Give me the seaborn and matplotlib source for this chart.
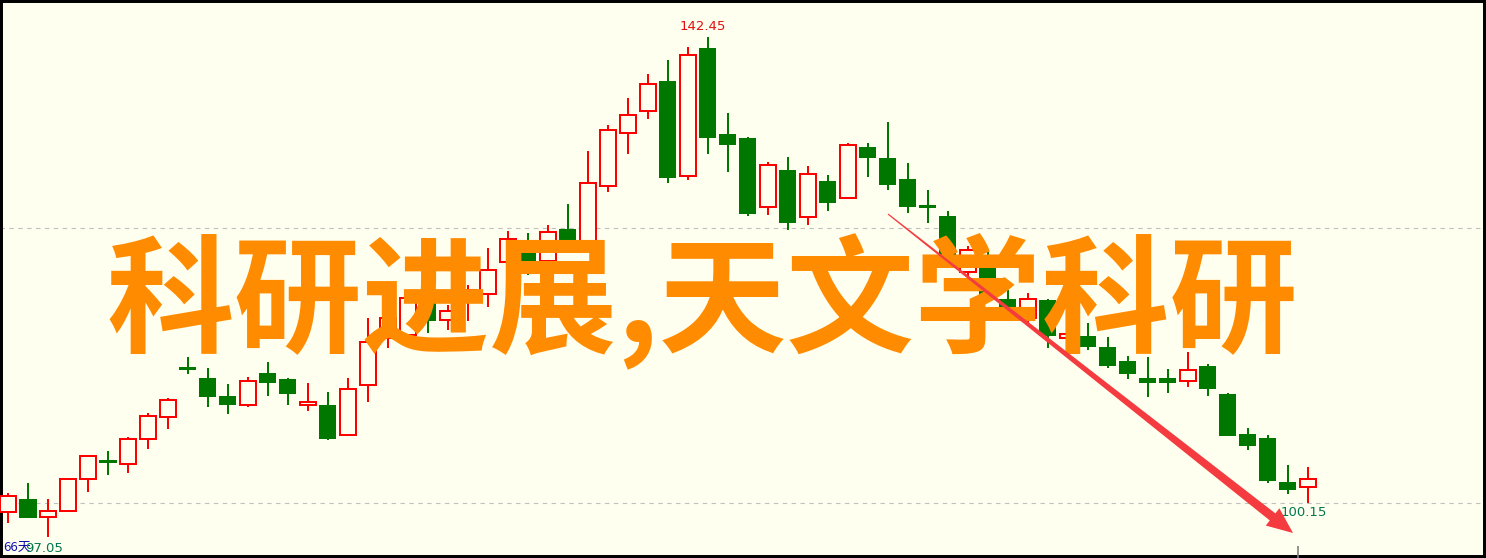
import numpy as np
import pandas as pd
import seaborn as sns
import matplotlib.pyplot as plt
from matplotlib.patches import Polygon

# 日K线数据
opens = [99.31, 100.58, 98.85, 99.40, 102.30, 104.12, 103.67, 105.94, 107.93, 112.39,
         111.57, 109.93, 109.02, 112.02, 111.48, 109.02, 109.12, 106.30, 110.84, 115.11,
         115.38, 118.38, 116.75, 118.38, 119.11, 122.01, 124.10, 122.10, 125.10, 123.56,
         128.92, 133.73, 135.73, 138.54, 129.82, 141.54, 133.73, 133.37, 127.01, 130.46,
         126.10, 129.46, 127.83, 132.55, 131.55, 129.64, 127.28, 126.28, 121.11, 122.65,
         118.74, 116.93, 118.65, 115.11, 115.38, 114.38, 113.11, 111.57, 111.57, 111.20,
         112.66, 110.11, 106.48, 106.12, 102.12, 101.58]
closes = [100.76, 98.85, 99.40, 102.30, 104.39, 103.85, 105.94, 108.03, 109.48, 112.29,
          109.84, 109.12, 111.20, 111.11, 110.11, 109.30, 106.03, 110.48, 114.75, 116.93,
          118.74, 116.75, 117.56, 119.47, 121.29, 124.10, 122.10, 124.74, 124.01, 129.19,
          134.00, 135.37, 138.18, 129.73, 140.82, 133.37, 132.73, 126.46, 130.82, 125.65,
          130.01, 127.46, 132.64, 131.55, 129.10, 127.10, 127.01, 122.01, 123.10, 119.11,
          117.93, 118.65, 115.38, 115.47, 114.38, 112.66, 111.93, 111.11, 111.11, 112.20,
          110.57, 106.30, 105.39, 102.21, 101.39, 102.30]
highs = [101.03, 101.94, 100.49, 102.39, 104.48, 104.85, 106.12, 108.30, 109.66, 113.38,
         112.39, 110.93, 111.57, 112.93, 111.48, 111.02, 110.21, 111.48, 116.93, 117.47,
         118.83, 119.29, 118.11, 119.92, 123.29, 124.83, 124.65, 125.37, 127.28, 132.10,
         134.46, 136.91, 139.09, 140.36, 141.54, 142.45, 135.55, 133.37, 131.10, 131.55,
         130.73, 129.92, 132.82, 132.82, 134.73, 131.01, 128.55, 126.65, 123.47, 123.10,
         119.47, 119.20, 118.65, 115.65, 116.47, 115.20, 113.48, 113.38, 112.29, 113.84,
         112.75, 110.11, 106.94, 106.30, 103.58, 103.39]
lows = [98.31, 98.85, 97.05, 99.40, 101.12, 102.67, 102.85, 105.03, 106.84, 111.84,
        108.84, 108.21, 108.84, 109.84, 109.02, 108.48, 105.85, 106.30, 109.30, 114.20,
        115.38, 115.56, 115.84, 116.65, 117.93, 121.74, 120.83, 122.01, 123.83, 123.10,
        128.37, 131.82, 135.00, 129.19, 129.46, 131.82, 130.19, 126.19, 126.28, 124.92,
        125.37, 126.65, 127.74, 129.73, 128.55, 126.46, 125.56, 121.65, 120.65, 118.83,
        117.74, 116.47, 114.20, 113.75, 114.02, 112.39, 111.39, 109.75, 110.11, 110.66,
        109.84, 106.21, 104.94, 101.94, 100.94, 100.15]

grid_levels = [125.10, 100.13]
title_text = "科研进展,天文学科研"
high_label = "142.45"
low_label = "100.15"
left_label = "97.05"
days_label = "66天"

bg = "#fffff0"
up_color = "#ff0000"
down_color = "#007800"

sns.set_theme(style="white")
plt.rcParams['font.family'] = ['Noto Sans CJK SC', 'DejaVu Sans']

df = pd.DataFrame({"open": opens, "close": closes, "high": highs, "low": lows})
df["idx"] = np.arange(len(df))
df["up"] = df["close"] >= df["open"]
df["bottom"] = df[["open", "close"]].min(axis=1)
df["height"] = (df["close"] - df["open"]).abs()

fig = plt.figure(figsize=(14.86, 5.58), dpi=100)
fig.patch.set_facecolor(bg)
ax = fig.add_axes([0, 0, 1, 1])
ax.set_facecolor(bg)
ax.set_xlim(-0.4, 73.9)
ax.set_ylim(95.13, 145.81)

for lvl in grid_levels:
    ax.axhline(lvl, color="#c0c0c0", lw=0.8, ls=(0, (4, 4)), zorder=1)

# 影线
wick_colors = np.where(df["up"], up_color, down_color)
ax.vlines(df["idx"], df["low"], df["high"], colors=wick_colors, lw=1.44, zorder=2)

# 阴线实体
dn = df[~df["up"]]
ax.bar(dn["idx"], np.maximum(dn["height"], 0.25), bottom=dn["bottom"] - 0.05,
       width=0.85, color=down_color, lw=0, zorder=3)

# 阳线实体 (空心)
up = df[df["up"]]
ax.bar(up["idx"], np.maximum(up["height"], 0.2), bottom=up["bottom"],
       width=0.77, facecolor=bg, edgecolor=up_color, lw=1.44, zorder=3)

# 底部小刻度
ax.vlines([64.5], 95.13, 96.22, colors="#808080", lw=1.2, zorder=3)

# 大标题
fig.text(0.4725, 0.461, title_text, ha="center", va="center", fontsize=92,
         fontweight="bold", color="#ff8c00", zorder=5)

# 箭头 (渐粗)
arrow_start = (44.0, 126.37)
arrow_end = (64.25, 97.40)
p0 = ax.transData.transform(arrow_start)
p1 = ax.transData.transform(arrow_end)
d = p1 - p0
u = d / np.hypot(*d)
n = np.array([-u[1], u[0]])
head_len, head_w = 26, 11
base = p1 - u * head_len
pts = [p0 + n * 0.6, base + n * 4.5, base + n * head_w, p1,
       base - n * head_w, base - n * 4.5, p0 - n * 0.6]
fig.patches.append(Polygon(pts, closed=True, transform=None, facecolor="#f43c40",
                           edgecolor="none", zorder=6))

# 标签
fig.text(703 / 1486, 1 - 27 / 558, high_label, ha="center", va="center",
         fontsize=9.5, color="#e01010", family="DejaVu Sans")
fig.text(1304 / 1486, 1 - 512 / 558, low_label, ha="center", va="center",
         fontsize=9.5, color="#007850", family="DejaVu Sans")
fig.text(44 / 1486, 1 - 548 / 558, left_label, ha="center", va="center",
         fontsize=9.5, color="#007850", family="DejaVu Sans", zorder=4)
fig.text(31 / 1486, 1 - 547 / 558, days_label, ha="right", va="center",
         fontsize=9.5, color="#1010b0", zorder=3)

ax.set_xticks([])
ax.set_yticks([])
for s in ax.spines.values():
    s.set_visible(True)
    s.set_color("black")
    s.set_linewidth(4.3)

fig.savefig("out.png", dpi=100, facecolor=bg)
